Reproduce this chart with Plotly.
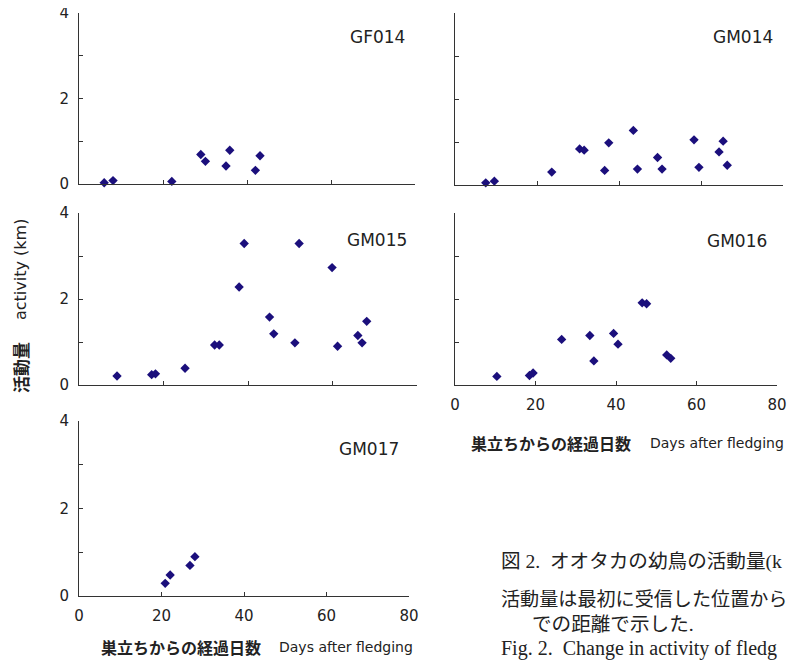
import plotly.graph_objects as go

# ---- data ----
panel_names = ["GF014", "GM014", "GM015", "GM016", "GM017"]

gf014_days = [6.0, 8.1, 22.1, 29.0, 30.1, 35.0, 35.9, 42.0, 43.1]
gf014_act = [0.03, 0.08, 0.06, 0.69, 0.53, 0.42, 0.79, 0.32, 0.66]

gm014_days = [7.5, 9.6, 23.6, 30.4, 31.5, 36.5, 37.5, 43.5, 44.5, 49.4, 50.5, 58.3, 59.5, 64.4, 65.4, 66.4]
gm014_act = [0.05, 0.09, 0.30, 0.84, 0.81, 0.34, 0.98, 1.27, 0.37, 0.64, 0.37, 1.05, 0.41, 0.77, 1.02, 0.46]

gm015_days = [9.0, 17.2, 18.1, 25.1, 32.1, 33.2, 37.9, 39.1, 45.1, 46.1, 51.1, 52.1, 59.9, 61.2, 66.0, 67.0, 68.1]
gm015_act = [0.21, 0.24, 0.26, 0.39, 0.93, 0.93, 2.28, 3.29, 1.58, 1.19, 0.98, 3.29, 2.73, 0.90, 1.15, 0.98, 1.48]

gm016_days = [10.4, 18.5, 19.4, 26.5, 33.5, 34.5, 39.4, 40.5, 46.5, 47.6, 52.6, 53.6]
gm016_act = [0.20, 0.22, 0.28, 1.06, 1.15, 0.56, 1.20, 0.95, 1.91, 1.89, 0.70, 0.62]

gm017_days = [20.9, 22.1, 26.9, 28.1]
gm017_act = [0.29, 0.48, 0.70, 0.90]

x_tick_vals = [0, 20, 40, 60, 80]
x_tick_text = ["0", "20", "40", "60", "80"]
y_tick_vals = [0, 1, 2, 3, 4]
y_tick_text = ["0", "", "2", "", "4"]

x_title_ja = "巣立ちからの経過日数"
x_title_en = "Days after fledging"
y_title_ja = "活動量"
y_title_en = "activity (km)"

caption_lines = [
    "図 2.\u00a0\u00a0オオタカの幼鳥の活動量(k",
    "活動量は最初に受信した位置から",
    "での距離で示した.",
    "Fig. 2.\u00a0\u00a0Change in activity of fledg",
]

# ---- layout helpers (page pixels; the page keeps an 8px body margin) ----
PAGE_W, PAGE_H = 796, 668
OFF = 8
W, H = PAGE_W - 2 * OFF, PAGE_H - 2 * OFF


def fx(px):
    return min(1.0, max(0.0, (px - OFF) / W))


def fy(py):
    return min(1.0, max(0.0, 1 - (py - OFF) / H))


SANS = "DejaVu Sans, Liberation Sans, sans-serif"
CJK = "Noto Sans CJK JP, sans-serif"
SERIF = "Liberation Serif, Noto Sans CJK JP, serif"
SERIF_LAT = "Liberation Serif, serif"
MARK = "#1b0f7c"
AXC = "#333333"
TXT = "#222222"

series = [
    (gf014_days, gf014_act),
    (gm014_days, gm014_act),
    (gm015_days, gm015_act),
    (gm016_days, gm016_act),
    (gm017_days, gm017_act),
]

# panel pixel boxes: (left, right, top, bottom), x labels?, y labels?, label offset
boxes = [
    ((79, 415, 13, 184), False, True, 24),
    ((455, 783, 13, 185), False, False, 24),
    ((79, 417, 213, 385), False, True, 27),
    ((455, 777, 213, 385), True, False, 28),
    ((79, 409, 421, 596), True, True, 28),
]

fig = go.Figure()
layout = {}
annotations = []

for i, ((xd, yd), ((l, r, t, b), xlab, ylab, lo), name) in enumerate(zip(series, boxes, panel_names)):
    n = "" if i == 0 else str(i + 1)
    fig.add_trace(go.Scatter(
        x=xd, y=yd, mode="markers",
        marker=dict(symbol="diamond", size=7.2, color=MARK, line=dict(width=0)),
        xaxis="x" + n, yaxis="y" + n, cliponaxis=False, showlegend=False,
    ))
    layout["xaxis" + n] = dict(
        domain=[fx(l), fx(r)], anchor="y" + n, range=[0, 80],
        showgrid=False, zeroline=False, showline=True, linecolor=AXC, linewidth=1,
        ticks="inside", ticklen=4, tickcolor=AXC, tickwidth=1,
        tickvals=x_tick_vals, ticktext=x_tick_text, showticklabels=xlab,
        tickfont=dict(family=SANS, size=15, color=TXT),
        ticklabelstandoff=6, ticklabeloverflow="allow",
    )
    layout["yaxis" + n] = dict(
        domain=[fy(b), fy(t)], anchor="x" + n, range=[0, 4],
        showgrid=False, zeroline=False, showline=True, linecolor=AXC, linewidth=1,
        ticks="inside", ticklen=4, tickcolor=AXC, tickwidth=1,
        tickvals=y_tick_vals, ticktext=y_tick_text, showticklabels=ylab,
        tickfont=dict(family=SANS, size=15, color=TXT),
        ticklabelstandoff=6, ticklabeloverflow="allow",
    )
    annotations.append(dict(
        text=name, x=fx(min(r, 787) - 8), y=fy(t + lo), xref="paper", yref="paper",
        xanchor="right", yanchor="middle", showarrow=False,
        font=dict(family=SANS, size=17, color=TXT),
    ))

# x-axis titles
for (ja_left, en_left, yc) in [(99, 277, 647), (469, 648, 443)]:
    annotations.append(dict(
        text="<b>" + x_title_ja + "</b>", x=fx(ja_left), y=fy(yc), xref="paper", yref="paper",
        xanchor="left", yanchor="middle", showarrow=False,
        font=dict(family=CJK, size=16, color=TXT),
    ))
    annotations.append(dict(
        text=x_title_en, x=fx(en_left), y=fy(yc), xref="paper", yref="paper",
        xanchor="left", yanchor="middle", showarrow=False,
        font=dict(family=SANS, size=14, color=TXT),
    ))

# y-axis title
annotations.append(dict(
    text=y_title_en, x=fx(20), y=fy(270), xref="paper", yref="paper",
    xanchor="center", yanchor="middle", textangle=-90, showarrow=False,
    font=dict(family=SANS, size=16, color=TXT),
))
annotations.append(dict(
    text="<b>" + y_title_ja + "</b>", x=fx(20), y=fy(368), xref="paper", yref="paper",
    xanchor="center", yanchor="middle", textangle=-90, showarrow=False,
    font=dict(family=CJK, size=17, color=TXT),
))

# caption (the reference cuts it at the right edge)
cap_fonts = [SERIF, SERIF, SERIF, SERIF_LAT]
for txt, left, yc, sz, fam in zip(caption_lines, [499, 499, 530, 499], [562, 599, 624, 648],
                                  [19.6, 19.1, 19.6, 20], cap_fonts):
    annotations.append(dict(
        text=txt, x=fx(left), y=fy(yc), xref="paper", yref="paper",
        xanchor="left", yanchor="middle", showarrow=False,
        font=dict(family=fam, size=sz, color=TXT),
    ))

fig.update_layout(
    width=W, height=H, margin=dict(l=0, r=0, t=0, b=0, autoexpand=False),
    paper_bgcolor="white", plot_bgcolor="white",
    annotations=annotations, **layout,
)

fig.write_html("out.html", config={"displayModeBar": False})
